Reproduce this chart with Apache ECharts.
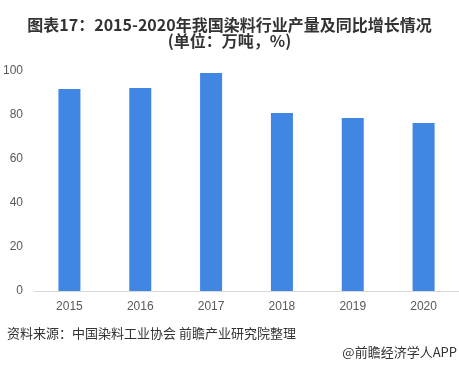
<!DOCTYPE html>
<html>
<head>
<meta charset="utf-8">
<script src="https://cdn.jsdelivr.net/npm/echarts@6/dist/echarts.min.js"></script>
<style>
  html, body { margin: 0; padding: 0; background: #fff; }
  #chart { width: 459px; height: 368px; }
</style>
</head>
<body>
<div id="chart"></div>
<script>
// 年份 & 产量（万吨）
var years = ["2015", "2016", "2017", "2018", "2019", "2020"];
var output = [91.8, 92.3, 99.1, 80.9, 78.6, 76.4];
var yTicks = [0, 20, 40, 60, 80, 100];

var chart = echarts.init(document.getElementById("chart"));
var fontCn = "'Microsoft YaHei', 'Noto Sans CJK SC', sans-serif";

var option = {
  backgroundColor: "#fff",
  animation: false,
  title: {
    text: "图表17：2015-2020年我国染料行业产量及同比增长情况\n(单位：万吨，%)",
    left: "center",
    top: 12,
    textStyle: {
      fontFamily: fontCn,
      fontSize: 16,
      fontWeight: "bold",
      color: "#333",
      lineHeight: 16
    }
  },
  grid: { left: 33, right: 0, top: 71, bottom: 77 },
  xAxis: {
    type: "category",
    data: years,
    axisLine: { lineStyle: { color: "#d9d9d9", width: 1 } },
    axisTick: { show: false },
    axisLabel: { color: "#595959", fontSize: 12, fontFamily: "Arial, 'Liberation Sans', sans-serif", margin: 10 }
  },
  yAxis: {
    type: "value",
    min: yTicks[0],
    max: yTicks[yTicks.length - 1],
    interval: 20,
    axisLine: { show: false },
    axisTick: { show: false },
    splitLine: { show: false },
    axisLabel: { color: "#595959", fontSize: 12, fontFamily: "Arial, 'Liberation Sans', sans-serif", margin: 11 }
  },
  series: [{
    type: "bar",
    data: output,
    barWidth: 22,
    itemStyle: { color: "#4186E2" }
  }],
  graphic: [
    {
      type: "text",
      left: 7,
      top: 327,
      style: { text: "资料来源：中国染料工业协会 前瞻产业研究院整理", fontSize: 13, fill: "#333", fontFamily: fontCn }
    },
    {
      type: "text",
      right: 2,
      top: 346,
      style: { text: "@前瞻经济学人APP", fontSize: 13, fill: "#333", fontFamily: fontCn }
    }
  ]
};

chart.setOption(option);
</script>
</body>
</html>
